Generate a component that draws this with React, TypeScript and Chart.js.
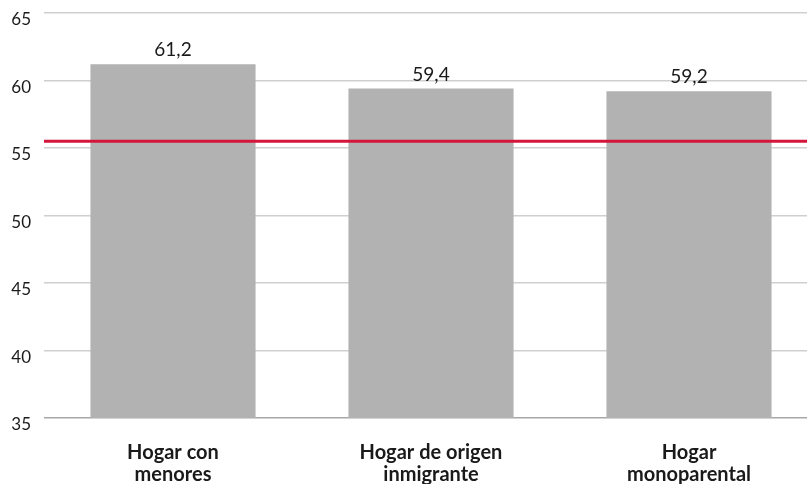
import React, { useEffect, useRef } from "react";
import { Chart, registerables } from "chart.js";

Chart.register(...registerables);

const categories: string[][] = [
  ["Hogar con", "menores"],
  ["Hogar de origen", "inmigrante"],
  ["Hogar", "monoparental"],
];
const values: number[] = [61.2, 59.4, 59.2];
const referenceValue = 55.5;
const yMin = 35;
const yMax = 65;
const yStep = 5;

const FONT = "Lato, 'DejaVu Sans', sans-serif";

const refLinePlugin = {
  id: "refLine",
  afterDatasetsDraw(chart: any) {
    const { ctx, chartArea, scales } = chart;
    const y = scales.y.getPixelForValue(referenceValue);
    ctx.save();
    ctx.strokeStyle = "#d4163c";
    ctx.lineWidth = 3;
    ctx.beginPath();
    ctx.moveTo(chartArea.left, y);
    ctx.lineTo(chartArea.right, y);
    ctx.stroke();
    ctx.restore();
  },
};

const labelPlugin = {
  id: "barLabels",
  afterDatasetsDraw(chart: any) {
    const { ctx } = chart;
    const meta = chart.getDatasetMeta(0);
    ctx.save();
    ctx.font = `19px ${FONT}`;
    ctx.fillStyle = "#1a1a1a";
    ctx.textAlign = "center";
    ctx.textBaseline = "alphabetic";
    meta.data.forEach((el: any, i: number) => {
      const txt = values[i].toFixed(1).replace(".", ",");
      ctx.fillText(txt, el.x, el.y - 8);
    });
    ctx.restore();
  },
};

export default function App() {
  const ref = useRef<HTMLCanvasElement | null>(null);
  useEffect(() => {
    if (!ref.current) return;
    const chart = new Chart(ref.current, {
      type: "bar",
      data: {
        labels: categories,
        datasets: [
          {
            data: values,
            backgroundColor: "#b2b2b2",
            borderWidth: 0,
            barPercentage: 0.64,
            categoryPercentage: 1,
          },
        ],
      },
      options: {
        animation: false,
        responsive: false,
        maintainAspectRatio: false,
        layout: { padding: { top: 13, right: 0, left: 0, bottom: 0 } },
        plugins: {
          legend: { display: false },
          tooltip: { enabled: false },
        },
        scales: {
          x: {
            grid: { display: false },
            border: { display: false },
            ticks: {
              color: "#1a1a1a",
              font: { family: FONT, size: 20, weight: "bold", lineHeight: 1.1 },
              padding: 16,
              maxRotation: 0,
            },
            afterFit: (scale: any) => {
              scale.height = 66;
              scale.paddingLeft = 0;
              scale.paddingRight = 0;
            },
          },
          y: {
            min: yMin,
            max: yMax,
            ticks: {
              stepSize: yStep,
              color: "#1a1a1a",
              font: { family: FONT, size: 17 },
              padding: 13,
              labelOffset: 7,
            },
            grid: {
              color: (c: any) => (c.tick && c.tick.value === yMin ? "#a8a8a8" : "#cfcfcf"),
              lineWidth: 1.5,
              drawTicks: false,
            },
            border: { display: false },
            afterFit: (scale: any) => {
              scale.width = 44;
              scale.paddingTop = 0;
              scale.paddingBottom = 0;
            },
          },
        },
      },
      plugins: [refLinePlugin, labelPlugin],
    });
    return () => chart.destroy();
  }, []);
  return (
    <div
      style={{
        position: "fixed",
        left: 0,
        top: 0,
        width: 807,
        height: 484,
        overflow: "hidden",
        background: "#fff",
      }}
    >
      <canvas ref={ref} width={818} height={484} style={{ width: 818, height: 484, display: "block" }} />
    </div>
  );
}
